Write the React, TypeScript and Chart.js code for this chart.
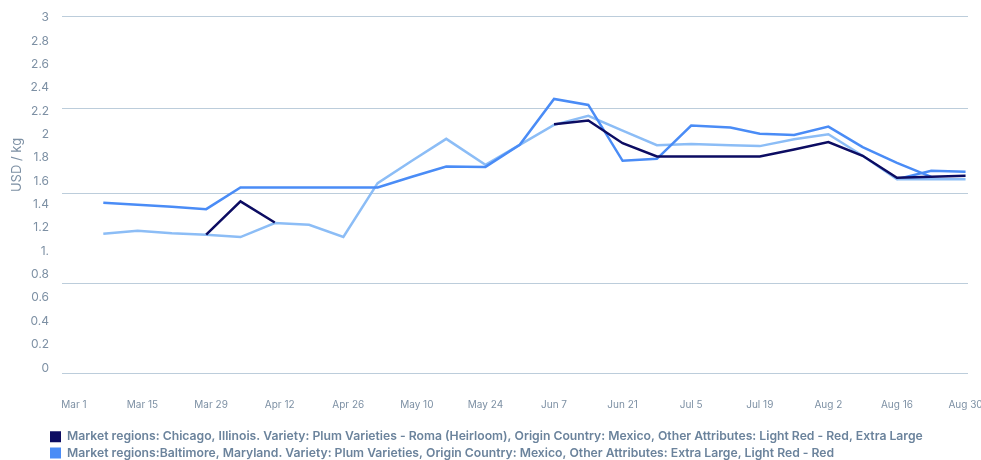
import React, { useEffect, useRef } from "react";
import { Chart, registerables } from "chart.js";

Chart.register(...registerables);

// ---- data (days counted from Mar 1) ----
const DAYS = [6, 13, 20, 27, 34, 41, 48, 55, 62, 69, 76, 84, 91, 98, 105, 112, 119, 126, 134, 140, 147, 154, 161, 168, 175, 182];

const CHICAGO = [null, null, null, 1.141, 1.426, 1.246, null, null, null, null, null, null, null, 2.088, 2.119, 1.925, 1.811, 1.811, 1.811, 1.811, 1.871, 1.934, 1.817, 1.628, 1.637, 1.645];
const BALTIMORE = [1.414, 1.397, 1.38, 1.36, 1.545, 1.545, 1.545, 1.545, 1.545, 1.637, 1.725, 1.722, 1.911, 2.304, 2.253, 1.774, 1.791, 2.076, 2.059, 2.005, 1.996, 2.067, 1.891, 1.757, 1.637, null];
const THIRD = [1.149, 1.175, 1.153, 1.141, 1.121, 1.241, 1.226, 1.121, 1.583, 1.774, 1.962, 1.74, 1.911, 2.082, 2.159, 2.033, 1.908, 1.917, 1.908, 1.9, 1.959, 2.002, 1.817, 1.617, 1.617, 1.617];
const FOURTH = [null, null, null, null, null, null, null, null, null, null, null, null, null, null, null, null, null, null, null, null, null, null, null, 1.617, 1.688, 1.68];

const SERIES_LABELS = [
  "Market regions: Chicago, Illinois. Variety: Plum Varieties - Roma (Heirloom), Origin Country: Mexico, Other Attributes: Light Red - Red, Extra Large",
  "Market regions:Baltimore, Maryland. Variety: Plum Varieties, Origin Country: Mexico, Other Attributes: Extra Large, Light Red - Red",
  "Series 3",
  "Series 4",
];

const X_TICK_DAYS = [0, 14, 28, 42, 56, 70, 84, 98, 112, 126, 140, 154, 168, 182];
const X_TICK_LABELS = ["Mar 1", "Mar 15", "Mar 29", "Apr 12", "Apr 26", "May 10", "May 24", "Jun 7", "Jun 21", "Jul 5", "Jul 19", "Aug 2", "Aug 16", "Aug 30"];

const Y_TICK_VALUES = [0, 0.2, 0.4, 0.6, 0.8, 1, 1.2, 1.4, 1.6, 1.8, 2, 2.2, 2.4, 2.6, 2.8, 3];
const Y_TICK_LABELS = ["0", "0.2", "0.4", "0.6", "0.8", "1.", "1.2", "1.4", "1.6", "1.8", "2", "2.2", "2.4", "2.6", "2.8", "3"];
const Y_GRID_VALUES = [-0.0454, 0.719, 1.491, 2.225, 3.0145];
const Y_MIN = -0.0454;
const Y_MAX = 3.0145;
const X_MIN = -2.43;
const X_MAX = 182.5;
const Y_TITLE = "USD / kg";

const COLORS = ["#0c0c62", "#4a8cf6", "#8cbdf6", "#4a8cf6"];
const GRID_COLOR = "#bccddb";
const TICK_COLOR = "#7d90a4";
const LEGEND_COLOR = "#6b839c";

const yTitlePlugin = {
  id: "yTitlePlugin",
  afterLayout(chart: any) {
    if (chart.legend) chart.legend.left = 46;
  },
  afterDraw(chart: any) {
    const ctx = chart.ctx;
    ctx.save();
    ctx.translate(17.5, 165);
    ctx.rotate(-Math.PI / 2);
    ctx.font = "13px Inter";
    ctx.fillStyle = TICK_COLOR;
    ctx.textAlign = "center";
    ctx.textBaseline = "middle";
    ctx.fillText(Y_TITLE, 0, 0);
    ctx.restore();
  },
};

export default function App() {
  const ref = useRef<HTMLCanvasElement | null>(null);

  useEffect(() => {
    if (!ref.current) return;
    const series = [CHICAGO, BALTIMORE, THIRD, FOURTH];
    const chart = new Chart(ref.current, {
      type: "line",
      data: {
        datasets: series.map((vals, si) => ({
          label: SERIES_LABELS[si],
          data: DAYS.map((d, i) => ({ x: d, y: vals[i] })),
          borderColor: COLORS[si],
          backgroundColor: COLORS[si],
          borderWidth: 2.5,
          pointRadius: 0,
          tension: 0,
          spanGaps: false,
        })),
      },
      options: {
        animation: false,
        responsive: true,
        maintainAspectRatio: false,
        layout: { padding: { left: 0, right: 42, top: 16, bottom: 0 } },
        plugins: {
          tooltip: { enabled: false },
          legend: {
            position: "bottom",
            align: "start",
            labels: {
              boxWidth: 11,
              boxHeight: 11,
              padding: 4,
              color: LEGEND_COLOR,
              font: { family: "Inter", size: 12.2, weight: "600" },
              filter: (item: any) => item.datasetIndex < 2,
              generateLabels: (c: any) =>
                Chart.defaults.plugins.legend.labels.generateLabels(c).map((it: any) => ({ ...it, lineWidth: 0 })),
            },
          },
        },
        scales: {
          x: {
            type: "linear",
            min: X_MIN,
            max: X_MAX,
            grid: { display: false },
            border: { display: false },
            afterBuildTicks: (s: any) => {
              s.ticks = X_TICK_DAYS.map((v) => ({ value: v }));
            },
            afterFit: (s: any) => {
              s.height = 53.4;
            },
            ticks: {
              autoSkip: false,
              maxRotation: 0,
              padding: 18,
              color: TICK_COLOR,
              font: { family: "Inter", size: 10 },
              callback: (v: any) => {
                const i = X_TICK_DAYS.indexOf(v);
                return i >= 0 ? X_TICK_LABELS[i] : "";
              },
            },
          },
          y: {
            type: "linear",
            min: Y_MIN,
            max: Y_MAX,
            border: { display: false },
            grid: {
              drawTicks: true,
              tickLength: 13,
              tickColor: "rgba(0,0,0,0)",
              lineWidth: 1,
              color: (c: any) => (c.tick && Y_GRID_VALUES.includes(c.tick.value) ? GRID_COLOR : "rgba(0,0,0,0)"),
            },
            afterBuildTicks: (s: any) => {
              const all = [...Y_TICK_VALUES, ...Y_GRID_VALUES].sort((a, b) => a - b);
              s.ticks = all.map((v) => ({ value: v }));
            },
            afterFit: (s: any) => {
              s.width = 62;
            },
            ticks: {
              autoSkip: false,
              padding: 0,
              color: TICK_COLOR,
              font: { family: "Inter", size: 12 },
              callback: (v: any) => {
                const i = Y_TICK_VALUES.indexOf(v);
                return i >= 0 ? Y_TICK_LABELS[i] : "";
              },
            },
          },
        },
      },
      plugins: [yTitlePlugin],
    } as any);
    return () => chart.destroy();
  }, []);

  return (
    <div style={{ position: "fixed", left: 0, top: 0, width: 981, height: 460, overflow: "hidden", background: "#ffffff" }}>
      <div style={{ position: "relative", width: 1010, height: 469 }}>
        <canvas ref={ref} />
      </div>
    </div>
  );
}
